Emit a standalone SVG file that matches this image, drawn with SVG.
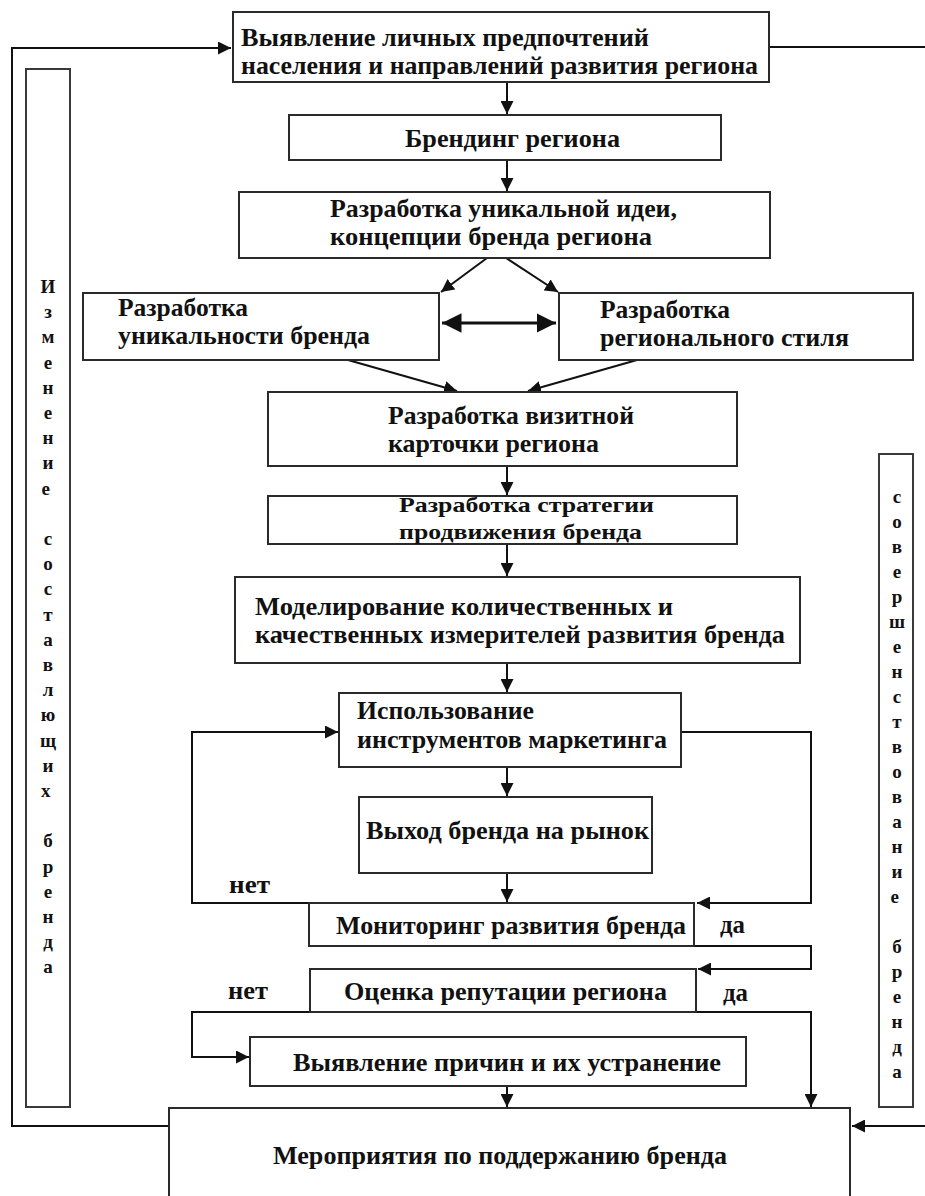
<svg xmlns="http://www.w3.org/2000/svg" width="925" height="1196" viewBox="0 0 925 1196">
  <style>
    .box { fill: #ffffff; stroke: #2a2a2a; stroke-width: 2; }
    .col { fill: #ffffff; stroke: #3a3a3a; stroke-width: 2; }
    .ln { fill: none; stroke: #111111; stroke-width: 2; }
    .lnb { fill: none; stroke: #111111; stroke-width: 3; }
    .t { font-family: "Liberation Serif", "Times New Roman", serif; font-weight: bold; font-size: 25px; fill: #111111; }
    .s { font-size: 22px; }
    .v { font-family: "Liberation Serif", "Times New Roman", serif; font-weight: bold; font-size: 19px; fill: #111111; text-anchor: middle; }
  </style>
  <defs>
    <marker id="ah" viewBox="0 0 10 10" refX="10" refY="5" markerWidth="6.5" markerHeight="6.5" markerUnits="strokeWidth" orient="auto-start-reverse">
      <path d="M0,0 L10,5 L0,10 z" fill="#111111"/>
    </marker>
  </defs>
  <rect width="925" height="1196" fill="#ffffff"/>

  <!-- side columns -->
  <g id="col-left">
    <rect class="col" x="26" y="69" width="44" height="1038"/>
    <text class="v">
      <tspan x="48" y="293">И</tspan><tspan x="48" y="318">з</tspan><tspan x="48" y="343">м</tspan><tspan x="48" y="369">е</tspan><tspan x="48" y="394">н</tspan><tspan x="48" y="419">е</tspan><tspan x="48" y="444">н</tspan><tspan x="48" y="469">и</tspan><tspan x="48" y="495">е</tspan>
      <tspan x="48" y="545">с</tspan><tspan x="48" y="570">о</tspan><tspan x="48" y="595">с</tspan><tspan x="48" y="621">т</tspan><tspan x="48" y="646">а</tspan><tspan x="48" y="671">в</tspan><tspan x="48" y="696">л</tspan><tspan x="48" y="721">ю</tspan><tspan x="48" y="747">щ</tspan><tspan x="48" y="772">и</tspan><tspan x="48" y="797">х</tspan>
      <tspan x="48" y="847">б</tspan><tspan x="48" y="873">р</tspan><tspan x="48" y="898">е</tspan><tspan x="48" y="923">н</tspan><tspan x="48" y="948">д</tspan><tspan x="48" y="973">а</tspan>
    </text>
  </g>
  <g id="col-right">
    <rect class="col" x="879" y="454" width="34" height="653"/>
    <text class="v">
      <tspan x="897" y="503">с</tspan><tspan x="897" y="528">о</tspan><tspan x="897" y="553">в</tspan><tspan x="897" y="578">е</tspan><tspan x="897" y="603">р</tspan><tspan x="897" y="628">ш</tspan><tspan x="897" y="653">е</tspan><tspan x="897" y="678">н</tspan><tspan x="897" y="703">с</tspan><tspan x="897" y="728">т</tspan><tspan x="897" y="753">в</tspan><tspan x="897" y="778">о</tspan><tspan x="897" y="803">в</tspan><tspan x="897" y="828">а</tspan><tspan x="897" y="853">н</tspan><tspan x="897" y="878">и</tspan><tspan x="897" y="903">е</tspan>
      <tspan x="897" y="953">б</tspan><tspan x="897" y="978">р</tspan><tspan x="897" y="1003">е</tspan><tspan x="897" y="1028">н</tspan><tspan x="897" y="1053">д</tspan><tspan x="897" y="1078">а</tspan>
    </text>
  </g>

  <!-- connectors -->
  <g id="connectors">
    <polyline class="ln" points="169,1126 12,1126 12,48 231,48" marker-end="url(#ah)"/>
    <line class="ln" x1="769" y1="47" x2="925" y2="47"/>
    <line class="ln" x1="925" y1="1126" x2="852" y2="1126" marker-end="url(#ah)"/>
    <line class="ln" x1="507" y1="82" x2="507" y2="114" marker-end="url(#ah)"/>
    <line class="ln" x1="507" y1="160" x2="507" y2="191" marker-end="url(#ah)"/>
    <line class="ln" x1="487" y1="258" x2="441" y2="292" marker-end="url(#ah)"/>
    <line class="ln" x1="506" y1="258" x2="558" y2="292" marker-end="url(#ah)"/>
    <line class="lnb" x1="442" y1="323" x2="556" y2="323" marker-start="url(#ah)" marker-end="url(#ah)"/>
    <line class="ln" x1="348" y1="360" x2="457" y2="391" marker-end="url(#ah)"/>
    <line class="ln" x1="637" y1="360" x2="528" y2="391" marker-end="url(#ah)"/>
    <line class="ln" x1="507" y1="466" x2="507" y2="495" marker-end="url(#ah)"/>
    <line class="ln" x1="507" y1="544" x2="507" y2="576" marker-end="url(#ah)"/>
    <line class="ln" x1="507" y1="663" x2="507" y2="692" marker-end="url(#ah)"/>
    <line class="ln" x1="507" y1="767" x2="507" y2="796" marker-end="url(#ah)"/>
    <line class="ln" x1="507" y1="873" x2="507" y2="902" marker-end="url(#ah)"/>
    <polyline class="ln" points="309,903 192,903 192,732 338,732" marker-end="url(#ah)"/>
    <polyline class="ln" points="681,732 811,732 811,903 697,903" marker-end="url(#ah)"/>
    <polyline class="ln" points="694,946 811,946 811,969 698,969" marker-end="url(#ah)"/>
    <polyline class="ln" points="310,1012 192,1012 192,1057 249,1057" marker-end="url(#ah)"/>
    <polyline class="ln" points="696,1012 811,1012 811,1107" marker-end="url(#ah)"/>
    <line class="ln" x1="507" y1="1086" x2="507" y2="1107" marker-end="url(#ah)"/>
  </g>

  <g id="n1">
    <rect class="box" x="233" y="12" width="536" height="70"/>
    <text class="t" x="241" y="46" textLength="408" lengthAdjust="spacingAndGlyphs">Выявление личных предпочтений</text>
    <text class="t" x="241" y="74" textLength="517" lengthAdjust="spacingAndGlyphs">населения и направлений развития региона</text>
  </g>
  <g id="n2">
    <rect class="box" x="289" y="115" width="432" height="45"/>
    <text class="t" x="405" y="147" textLength="215" lengthAdjust="spacingAndGlyphs">Брендинг региона</text>
  </g>
  <g id="n3">
    <rect class="box" x="239" y="192" width="531" height="66"/>
    <text class="t" x="330" y="217" textLength="347" lengthAdjust="spacingAndGlyphs">Разработка уникальной идеи,</text>
    <text class="t" x="330" y="245" textLength="322" lengthAdjust="spacingAndGlyphs">концепции бренда региона</text>
  </g>
  <g id="n4">
    <rect class="box" x="83" y="293" width="356" height="67"/>
    <text class="t" x="118" y="316" textLength="130" lengthAdjust="spacingAndGlyphs">Разработка</text>
    <text class="t" x="118" y="344" textLength="252" lengthAdjust="spacingAndGlyphs">уникальности бренда</text>
  </g>
  <g id="n5">
    <rect class="box" x="559" y="293" width="354" height="67"/>
    <text class="t" x="600" y="318" textLength="130" lengthAdjust="spacingAndGlyphs">Разработка</text>
    <text class="t" x="600" y="346" textLength="249" lengthAdjust="spacingAndGlyphs">регионального стиля</text>
  </g>
  <g id="n6">
    <rect class="box" x="268" y="392" width="469" height="74"/>
    <text class="t" x="388" y="424" textLength="246" lengthAdjust="spacingAndGlyphs">Разработка визитной</text>
    <text class="t" x="388" y="452" textLength="211" lengthAdjust="spacingAndGlyphs">карточки региона</text>
  </g>
  <g id="n7">
    <rect class="box" x="268" y="496" width="469" height="48"/>
    <text class="t s" x="399" y="512" textLength="255" lengthAdjust="spacingAndGlyphs">Разработка стратегии</text>
    <text class="t s" x="399" y="539" textLength="243" lengthAdjust="spacingAndGlyphs">продвижения бренда</text>
  </g>
  <g id="n8">
    <rect class="box" x="235" y="577" width="565" height="86"/>
    <text class="t" x="255" y="615" textLength="418" lengthAdjust="spacingAndGlyphs">Моделирование количественных и</text>
    <text class="t" x="255" y="643" textLength="530" lengthAdjust="spacingAndGlyphs">качественных измерителей развития бренда</text>
  </g>
  <g id="n9">
    <rect class="box" x="339" y="693" width="342" height="74"/>
    <text class="t" x="357" y="719" textLength="177" lengthAdjust="spacingAndGlyphs">Использование</text>
    <text class="t" x="357" y="748" textLength="310" lengthAdjust="spacingAndGlyphs">инструментов маркетинга</text>
  </g>
  <g id="n10">
    <rect class="box" x="359" y="797" width="293" height="76"/>
    <text class="t" x="366" y="839" textLength="283" lengthAdjust="spacingAndGlyphs">Выход бренда на рынок</text>
  </g>
  <g id="n11">
    <rect class="box" x="309" y="903" width="385" height="43"/>
    <text class="t" x="336" y="934" textLength="350" lengthAdjust="spacingAndGlyphs">Мониторинг развития бренда</text>
  </g>
  <g id="n12">
    <rect class="box" x="310" y="969" width="386" height="43"/>
    <text class="t" x="344" y="1000" textLength="323" lengthAdjust="spacingAndGlyphs">Оценка репутации региона</text>
  </g>
  <g id="n13">
    <rect class="box" x="250" y="1037" width="496" height="49"/>
    <text class="t" x="293" y="1071" textLength="428" lengthAdjust="spacingAndGlyphs">Выявление причин и их устранение</text>
  </g>
  <g id="n14">
    <rect class="box" x="169" y="1108" width="681" height="100"/>
    <text class="t" x="273" y="1164" textLength="454" lengthAdjust="spacingAndGlyphs">Мероприятия по поддержанию бренда</text>
  </g>

  <g id="labels">
    <text class="t" x="229" y="893" textLength="41" lengthAdjust="spacingAndGlyphs">нет</text>
    <text class="t" x="720" y="933" textLength="25" lengthAdjust="spacingAndGlyphs">да</text>
    <text class="t" x="228" y="999" textLength="40" lengthAdjust="spacingAndGlyphs">нет</text>
    <text class="t" x="723" y="1001" textLength="25" lengthAdjust="spacingAndGlyphs">да</text>
  </g>
</svg>
